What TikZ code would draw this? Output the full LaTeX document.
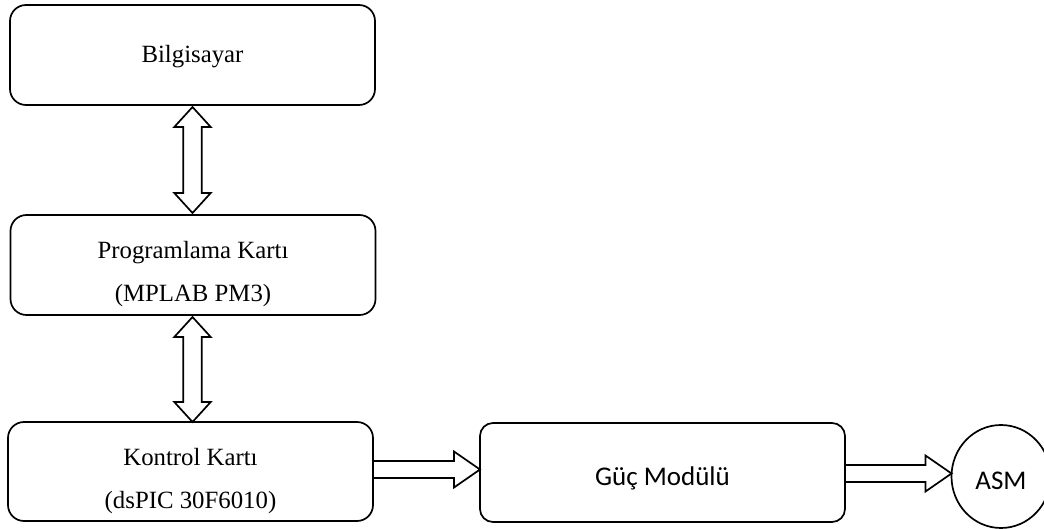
\documentclass[tikz,border=0pt]{standalone}
\usepackage{fontspec}
\setmainfont{Liberation Serif}
\newfontfamily\calfont{Carlito}
\usetikzlibrary{calc,shapes.geometric}

\tikzset{
  box/.style={draw, line width=1.7pt, rounded corners=16pt, outer sep=0pt,
    minimum width=365pt, minimum height=100pt, inner sep=0pt},
  serif/.style={font=\fontsize{24.8}{42.5}\selectfont},
  sans/.style={font=\calfont\fontsize{27}{32}\selectfont},
  fat/.style={draw, line width=1.7pt, line join=miter},
}

% hollow double-headed arrow between two points stacked vertically
\newcommand{\dblvarrow}[2]{%
  \draw[fat] let \p1=(#1), \p2=(#2) in
    (\x1,\y1) -- (\x1+18.2pt,\y1-20pt) -- (\x1+9.3pt,\y1-20pt) -- (\x1+9.3pt,\y2+20pt)
    -- (\x1+18.2pt,\y2+20pt) -- (\x1,\y2) -- (\x1-18.2pt,\y2+20pt) -- (\x1-9.3pt,\y2+20pt)
    -- (\x1-9.3pt,\y1-20pt) -- (\x1-18.2pt,\y1-20pt) -- cycle;}

% hollow block arrow pointing right, tail open against a box edge
\newcommand{\fatrarrow}[2]{%
  \draw[fat] let \p1=(#1), \p2=(#2) in
    (\x1,\y1+8.5pt) -- (\x2-26pt,\y1+8.5pt) -- (\x2-26pt,\y1+18pt) -- (\x2,\y1)
    -- (\x2-26pt,\y1-18pt) -- (\x2-26pt,\y1-8.5pt) -- (\x1,\y1-8.5pt);}

\begin{document}
\begin{tikzpicture}[x=1pt,y=-1pt]
\path[use as bounding box, fill=white] (0,0) rectangle (1044,529);

% blocks
\node[box, serif, text height=20pt, text depth=4pt] (bil) at (192.5,55) {Bilgisayar};
\node[box, serif, text height=73pt, text depth=0pt] (prog) at (193,265)
  {\begin{tabular}[b]{@{}c@{}}Programlama Kartı\\(MPLAB PM3)\end{tabular}};
\node[box, font=\fontsize{24.8}{43}\selectfont, minimum height=99pt,
  text height=73pt, text depth=0pt] (kont) at (190.5,471.5)
  {\begin{tabular}[b]{@{}c@{}}Kontrol Kartı\\(dsPIC 30F6010)\end{tabular}};
\node[box, sans, rounded corners=13pt, minimum height=99pt,
  text height=25pt, text depth=0pt] (guc) at (662.5,472.5) {Güç Modülü};
\node[ellipse, draw, line width=1.7pt, sans, outer sep=0pt, inner sep=0pt,
  minimum width=99pt, minimum height=103pt, text height=25.6pt, text depth=0pt]
  (asm) at (1001,476.5) {ASM};

% connectors
\coordinate (v1a) at ($(bil.south)+(0,2)$);
\coordinate (v1b) at ($(prog.north)+(0,-2)$);
\coordinate (v2a) at ($(prog.south)+(-0.5,2)$);
\coordinate (v2b) at (kont.north);
\coordinate (h1a) at ($(kont.east)+(0,-2)$);
\coordinate (h1b) at (guc.west);
\coordinate (h2a) at ($(guc.east)+(0,1)$);
\coordinate (h2b) at (asm.west);

\dblvarrow{v1a}{v1b}
\dblvarrow{v2a}{v2b}
\fatrarrow{h1a}{h1b}
\fatrarrow{h2a}{h2b}
\end{tikzpicture}
\end{document}
